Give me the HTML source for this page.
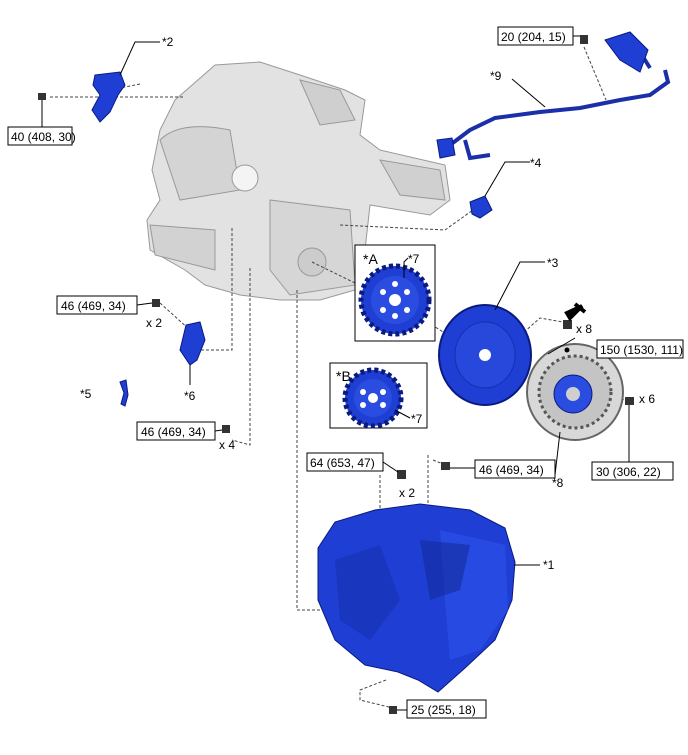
<!DOCTYPE html>
<html><head><style>
body{margin:0;background:#fff}
svg{display:block}
text{font-family:"Liberation Sans",sans-serif;font-size:12px;fill:#000}
.d{stroke:#444;stroke-dasharray:3,2;fill:none;stroke-width:1}
.l{stroke:#000;fill:none;stroke-width:1}
.b{fill:#fff;stroke:#000;stroke-width:1}
.bl{fill:#1f3fd4;stroke:#0a1a80;stroke-width:1}
</style></head><body>
<svg width="688" height="755" viewBox="0 0 688 755">
<!-- engine -->
<g fill="#e2e2e2" stroke="#999" stroke-width="1">
<path d="M175,100 L215,65 L260,62 L300,75 L345,90 L365,100 L360,135 L380,150 L445,165 L450,200 L430,215 L370,205 L365,250 L355,290 L320,300 L280,300 L240,295 L205,285 L185,270 L150,250 L147,220 L160,200 L152,170 L160,130 Z"/>
<path d="M300,80 L340,90 L355,120 L320,125 Z" fill="#cfcfcf"/>
<path d="M160,140 Q180,120 230,130 L240,190 L180,200 Z" fill="#d4d4d4"/>
<circle cx="245" cy="178" r="13" fill="#f4f4f4"/>
<path d="M270,200 L350,210 L355,285 L290,295 L270,270 Z" fill="#d6d6d6"/>
<circle cx="312" cy="262" r="14" fill="#cccccc"/>
<path d="M150,225 L215,230 L215,270 L155,255 Z" fill="#d2d2d2"/>
<path d="M380,160 L440,170 L445,200 L400,195 Z" fill="#d0d0d0"/>
</g>
<!-- leader/dash lines -->
<path class="d" d="M50,97 L185,97"/>
<path class="d" d="M140,84 L110,90"/>
<path class="d" d="M584,47 L606,100"/>
<path class="d" d="M480,205 L445,230 L340,225"/>
<path class="d" d="M312,262 L400,305 L480,355"/>
<path class="d" d="M480,355 L515,340 L540,318 L563,322"/>
<path class="d" d="M232,228 L232,350 L190,350"/>
<path class="d" d="M250,268 L250,445 L232,440"/>
<path class="d" d="M160,303 L190,330"/>
<path class="d" d="M297,290 L297,610 L330,610"/>
<path class="d" d="M380,475 L380,540 L365,540"/>
<path class="d" d="M428,455 L428,530 L410,525"/>
<path class="d" d="M433,460 L448,466"/>
<path class="d" d="M578,385 L625,400"/>
<path class="d" d="M386,680 L360,690 L360,700 L393,708"/>
<!-- *2 bracket -->
<path class="bl" d="M95,75 L120,72 L125,85 L118,95 L110,112 L100,122 L92,110 L100,95 L93,85 Z"/>
<path class="l" d="M120,75 L135,42 L160,42"/>
<text x="162" y="46">*2</text>
<rect x="38" y="93" width="8" height="7" fill="#333"/>
<path class="l" d="M42,100 L42,127"/>
<rect class="b" x="8" y="127" width="64" height="18"/><text x="11" y="141">40 (408, 30)</text>
<!-- *9 harness -->
<g stroke="#1a2fa8" fill="none" stroke-width="4">
<path d="M450,145 L470,130 L495,118 L540,112 L580,108 L620,100 L650,95 L668,82 L665,70"/>
<path d="M465,140 L470,158 L490,155"/>
<path d="M620,45 L640,52 L650,68"/>
</g>
<path class="bl" d="M605,40 L630,32 L648,50 L640,72 L620,60 Z"/>
<path class="bl" d="M437,140 L452,138 L455,155 L440,158 Z"/>
<path class="l" d="M512,79 L545,107"/>
<text x="490" y="80">*9</text>
<rect x="580" y="35" width="8" height="9" fill="#333"/>
<path class="l" d="M572,36 L580,36"/>
<rect class="b" x="498" y="27" width="75" height="18"/><text x="501" y="41">20 (204, 15)</text>
<!-- *4 -->
<path class="bl" d="M470,202 L485,196 L492,210 L480,218 L472,214 Z"/>
<path class="l" d="M485,196 L505,162 L530,162"/><text x="530" y="167">*4</text>
<!-- box A -->
<rect class="b" x="355" y="245" width="80" height="96"/>
<text x="363" y="264" style="font-size:14px">*A</text>
<circle cx="395" cy="300" r="34" fill="#1f3fd4" stroke="#0a1a80" stroke-dasharray="4,3" stroke-width="5"/>
<circle cx="395" cy="300" r="24" fill="#2a4ce0"/>
<circle cx="395" cy="300" r="6" fill="#fff"/>
<g fill="#fff"><circle cx="383" cy="292" r="3"/><circle cx="407" cy="292" r="3"/><circle cx="383" cy="310" r="3"/><circle cx="407" cy="310" r="3"/><circle cx="395" cy="284" r="3"/><circle cx="395" cy="316" r="3"/></g>
<path class="l" d="M404,278 L404,262 L408,258"/><text x="408" y="263">*7</text>
<!-- box B -->
<rect class="b" x="330" y="363" width="97" height="65"/>
<text x="336" y="381" style="font-size:14px">*B</text>
<circle cx="373" cy="398" r="28" fill="#1f3fd4" stroke="#0a1a80" stroke-dasharray="4,3" stroke-width="5"/>
<circle cx="373" cy="398" r="19" fill="#2a4ce0"/>
<circle cx="373" cy="398" r="5" fill="#fff"/>
<g fill="#fff"><circle cx="363" cy="392" r="3"/><circle cx="383" cy="392" r="3"/><circle cx="363" cy="405" r="3"/><circle cx="383" cy="405" r="3"/></g>
<path class="l" d="M395,410 L410,418"/><text x="411" y="423">*7</text>
<!-- *3 flywheel -->
<ellipse cx="485" cy="355" rx="46" ry="50" fill="#1f3fd4" stroke="#0a1a80" stroke-width="2"/>
<ellipse cx="485" cy="355" rx="30" ry="33" fill="#2848dc" stroke="#1530b0"/>
<circle cx="485" cy="355" r="6" fill="#fff"/>
<path class="l" d="M495,310 L520,262 L545,262"/><text x="547" y="267">*3</text>
<!-- *8 clutch disc -->
<circle cx="575" cy="392" r="48" fill="#d8d8d8" stroke="#666" stroke-width="2"/>
<circle cx="575" cy="392" r="36" fill="#c4c4c4" stroke="#555" stroke-dasharray="3,3" stroke-width="3"/>
<circle cx="573" cy="394" r="19" fill="#2a4ce0" stroke="#0a1a80"/>
<circle cx="573" cy="394" r="7" fill="#cfcfcf"/>
<path class="l" d="M560,432 L555,475"/><text x="552" y="487">*8</text>
<!-- bolt x8 -->
<rect x="563" y="320" width="9" height="9" fill="#333"/>
<path d="M582,306 L570,318 L567,313 Z M575,304 L585,312" fill="#000" stroke="#000" stroke-width="4"/>
<text x="576" y="333">x 8</text>
<circle cx="567" cy="350" r="2.5" fill="#000"/>
<path class="l" d="M548,354 L575,338"/>
<rect class="b" x="597" y="340" width="86" height="18"/><text x="600" y="354">150 (1530, 111)</text>
<rect x="625" y="397" width="9" height="8" fill="#333"/>
<text x="639" y="403">x 6</text>
<path class="l" d="M629,405 L629,462"/>
<rect class="b" x="592" y="462" width="81" height="18"/><text x="596" y="476">30 (306, 22)</text>
<!-- left bolts -->
<rect x="152" y="299" width="8" height="8" fill="#333"/>
<path class="l" d="M137,305 L152,303"/>
<rect class="b" x="57" y="296" width="80" height="18"/><text x="61" y="310">46 (469, 34)</text>
<text x="146" y="327">x 2</text>
<path class="bl" d="M186,325 L200,322 L205,340 L197,360 L190,365 L180,350 Z"/>
<path class="l" d="M190,365 L190,385"/><text x="184" y="400">*6</text>
<path class="bl" d="M120,382 L126,380 L128,395 L125,406 L121,404 L124,393 Z"/>
<text x="80" y="398">*5</text>
<rect x="222" y="425" width="8" height="8" fill="#333"/>
<path class="l" d="M215,431 L222,430"/>
<rect class="b" x="137" y="422" width="78" height="18"/><text x="141" y="436">46 (469, 34)</text>
<text x="219" y="449">x 4</text>
<!-- 64 bolt -->
<rect x="397" y="470" width="9" height="9" fill="#333"/>
<rect class="b" x="307" y="453" width="76" height="18"/><text x="310" y="467">64 (653, 47)</text>
<path class="l" d="M383,462 L398,472"/>
<text x="399" y="497">x 2</text>
<rect x="441" y="462" width="9" height="8" fill="#333"/>
<path class="l" d="M450,468 L475,468"/>
<rect class="b" x="475" y="460" width="80" height="18"/><text x="479" y="474">46 (469, 34)</text>
<!-- transmission -->
<path class="bl" d="M318,548 L335,522 L375,510 L420,504 L470,510 L505,528 L515,562 L512,600 L495,640 L465,668 L438,692 L418,680 L398,672 L365,665 L335,640 L318,600 Z"/>
<path d="M440,530 L505,545 L508,610 L480,650 L450,660 L445,600 Z" fill="#2a50e8" opacity=".7"/>
<path d="M335,560 L380,545 L400,600 L370,640 L340,620 Z" fill="#1530b0" opacity=".6"/>
<path d="M420,540 L470,545 L460,590 L430,600 Z" fill="#0f2590" opacity=".5"/>
<path class="l" d="M514,565 L540,565"/><text x="543" y="569">*1</text>
<rect x="389" y="706" width="8" height="8" fill="#333"/>
<path class="l" d="M397,710 L407,710"/>
<rect class="b" x="407" y="700" width="79" height="18"/><text x="411" y="714">25 (255, 18)</text>
</svg>
</body></html>
